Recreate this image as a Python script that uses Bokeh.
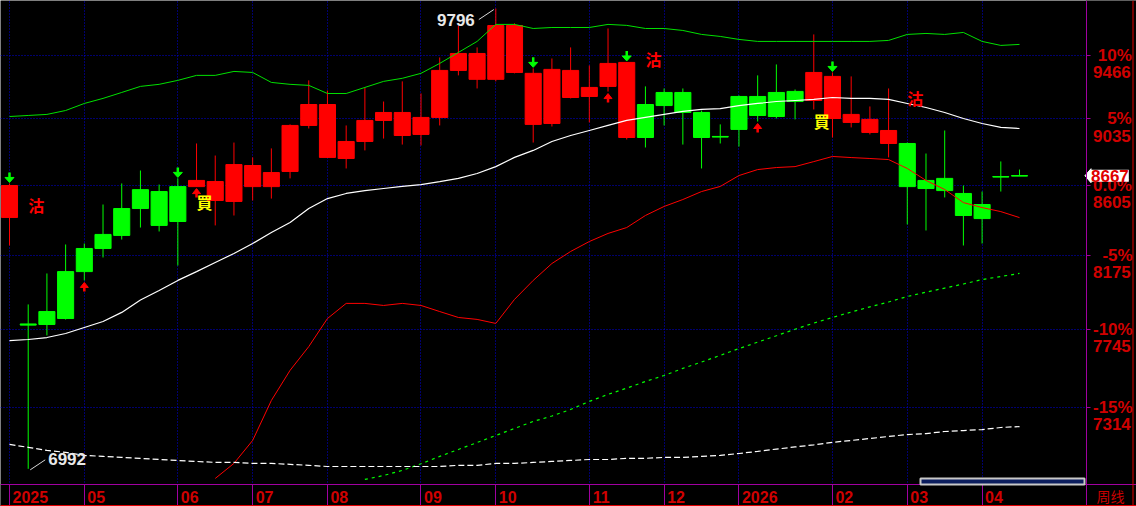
import numpy as np
from bokeh.plotting import figure
from bokeh.models import (ColumnDataSource, Range1d, FixedTicker, Label, Span,
                          BoxAnnotation)
from bokeh.core.properties import value
from bokeh.embed import file_html
from bokeh.resources import INLINE

# ---------------- data (weekly candles) ----------------
opens = [8406, 7775, 7846, 8079, 8217, 8302, 8461, 8579, 8567, 8598,
         8598, 8511, 8505, 8598, 8598, 8694, 8992, 8784, 8777, 8887,
         9025, 8926, 8933, 9045, 9362, 9301, 9301, 9348, 8999, 9005,
         9178, 9185, 9253, 8913, 9131, 9212, 9212, 9078, 8920, 9185,
         9185, 9212, 9219, 9158, 9038, 9012, 8946, 8874, 8874, 8637,
         8650, 8555, 8486, 8662, 8667]
highs = [8618, 7887, 8068, 8241, 8247, 8486, 8618, 8700, 8611, 8650,
         8874, 8796, 8880, 8784, 8842, 8999, 9294, 9225, 8992, 9246,
         9151, 9287, 9205, 9451, 9675, 9521, 9796, 9690, 9376, 9444,
         9521, 9396, 9654, 9420, 9253, 9239, 9239, 9091, 8999, 9192,
         9328, 9403, 9232, 9612, 9348, 9321, 9118, 9239, 8880, 8809,
         8959, 8605, 8567, 8758, 8706]
lows = [8235, 6992, 7710, 7800, 8027, 8163, 8271, 8344, 8320, 8115,
        8598, 8357, 8418, 8511, 8523, 8650, 8972, 8780, 8713, 8829,
        8906, 8867, 8861, 8992, 9328, 9239, 9287, 9342, 8880, 8985,
        9172, 9012, 9218, 8900, 8848, 8992, 8867, 8713, 8874, 8854,
        9018, 9038, 9032, 9098, 8913, 8979, 8933, 8784, 8363, 8326,
        8530, 8235, 8247, 8567, 8667]
closes = [8605, 7770, 7772, 7806, 8079, 8217, 8296, 8461, 8357, 8381,
          8637, 8630, 8738, 8732, 8687, 8992, 9131, 9131, 8887, 9025,
          9078, 9078, 9045, 9362, 9479, 9479, 9675, 9675, 9342, 9369,
          9362, 9246, 9410, 9417, 8913, 9124, 9078, 8913, 8918, 8966,
          9058, 9051, 9151, 9348, 9321, 9065, 9032, 8959, 8598, 8586,
          8573, 8418, 8399, 8660, 8667]

# indicator lines
upper_band = [9051, 9058, 9065, 9091, 9138, 9172, 9212, 9253, 9267, 9294,
              9328, 9328, 9355, 9348, 9280, 9267, 9260, 9205, 9205, 9246,
              9287, 9308, 9342, 9410, 9486, 9563, 9683, 9683, 9654, 9661,
              9661, 9661, 9683, 9676, 9654, 9654, 9640, 9612, 9598, 9577,
              9563, 9563, 9563, 9563, 9563, 9563, 9563, 9570, 9612, 9619,
              9612, 9626, 9563, 9535, 9542]
mid_line = [7681, 7687, 7698, 7721, 7755, 7789, 7841, 7913, 7968, 8027,
            8079, 8133, 8187, 8247, 8314, 8375, 8461, 8523, 8555, 8573,
            8586, 8599, 8611, 8630, 8650, 8681, 8725, 8784, 8829, 8887,
            8926, 8959, 8992, 9025, 9045, 9065, 9085, 9098, 9104, 9124,
            9138, 9151, 9158, 9165, 9178, 9172, 9172, 9165, 9138, 9111,
            9078, 9038, 9005, 8979, 8972]
nan = float("nan")
lower_red = [nan] * 11 + [6943, 7020, 7139, 7351, 7515, 7647, 7806, 7893, 7893,
                          7881, 7893, 7881, 7846, 7812, 7801, 7778, 7916, 8027, 8127,
                          8199, 8259, 8308, 8344, 8418, 8474, 8517, 8567, 8599, 8668,
                          8706, 8719, 8725, 8757, 8790, 8783, 8777, 8770, 8713, 8637,
                          8580, 8498, 8467, 8442, 8405]
green_dash = [nan] * 19 + [6938, 6958, 6984, 7018, 7056, 7092, 7128, 7165, 7202,
                           7239, 7268, 7303, 7346, 7384, 7418, 7454, 7487, 7526,
                           7561, 7598, 7636, 7672, 7708, 7745, 7780, 7812, 7843,
                           7873, 7901, 7933, 7958, 7982, 8006, 8032, 8050, 8068]
white_dash = [7118, 7103, 7087, 7077, 7061, 7056, 7051, 7046, 7040, 7035,
              7030, 7025, 7025, 7020, 7020, 7015, 7010, 7004, 7004, 7004,
              7004, 7004, 7004, 7004, 7010, 7010, 7020, 7020, 7025, 7030,
              7035, 7040, 7040, 7046, 7046, 7051, 7051, 7056, 7061, 7071,
              7082, 7094, 7105, 7116, 7129, 7139, 7149, 7160, 7170, 7175,
              7186, 7191, 7196, 7207, 7212]

# signals
sell_arrow_idx = [0, 9, 28, 33, 44]
buy_arrow_idx = [4, 10, 32, 40]
sell_text_idx = [1, 34, 48]
sell_text_price = [8486, 9444, 9178]
buy_text_idx = [10, 43]
buy_text_price = [8499, 9022]

# axes
month_idx = [0, 4, 9, 13, 17, 22, 26, 31, 35, 39, 44, 48, 52]
month_labels = ["2025", "05", "06", "07", "08", "09", "10", "11", "12",
                "2026", "02", "03", "04"]
base_price = 8605
pct_levels = [10, 5, 0, -5, -10, -15]
pct_labels = ["10%", "5%", "0.0%", "-5%", "-10%", "-15%"]
period_label = "周线"

# ---------------- layout calibration ----------------
W, H = 1136, 506
RX0, RDX = 9.0, 18.704            # first candle x, px per candle
RY0, RDY = 185.0, 1365.0          # y of base price, px per ln(price)


def ref_x(px):
    return (px - RX0) / RDX


def ref_y(py):
    return base_price * float(np.exp((RY0 - py) / RDY))


X0, X1 = ref_x(0), ref_x(W)
Y0, Y1 = ref_y(H), ref_y(0)
PX = W / (X1 - X0)                 # px per candle
K = np.log(Y1 / Y0) / H            # ln(price) per px
AXX = ref_x(1085.5)                # right axis location
AXY = ref_y(484)                   # bottom axis location


def up(v, px):
    return float(v) * float(np.exp(K * px))


RED = "#ff0000"
GREEN = "#00ff00"
PURPLE = "#a000a0"
AXRED = "#d00000"
GRID = "#0000dd"
FONT = "Liberation Sans"
FS = 17
FS_X = 16

# Liberation Sans Bold advance widths (em) used to right-justify the two label lines
CW = {"-": 0.333, ".": 0.278, "%": 0.889, " ": 0.278}


def em_width(s):
    return sum(CW.get(ch, 0.556) for ch in s)


def right_pair(a, b):
    wa, wb = em_width(a), em_width(b)
    if wa < wb:
        a = "\u00a0" * int(round((wb - wa) / 0.278)) + a
    elif wb < wa:
        b = "\u00a0" * int(round((wa - wb) / 0.278)) + b
    return " \n%s\n%s" % (a, b)


p = figure(width=W, height=H, x_range=Range1d(X0, X1), y_range=Range1d(Y0, Y1),
           y_axis_type="log", y_axis_location="right",
           output_backend="svg", toolbar_location=None,
           background_fill_color="black", border_fill_color="black",
           outline_line_color=None,
           min_border_left=0, min_border_top=0, min_border_right=0, min_border_bottom=0)

# y axis (right, fixed at the chart edge)
tick_prices = [int(base_price * (1 + q / 100.0) + 0.5) for q in pct_levels]
yax = p.yaxis[0]
yax.fixed_location = AXX
yax.ticker = FixedTicker(ticks=tick_prices, minor_ticks=[])
yax.major_label_overrides = {t: right_pair(a, str(t)) for t, a in zip(tick_prices, pct_labels)}
yax.axis_line_color = PURPLE
yax.major_tick_line_color = PURPLE
yax.major_tick_out = 4
yax.major_tick_in = 0
yax.minor_tick_out = 0
yax.minor_tick_line_color = None
yax.major_label_text_color = AXRED
yax.major_label_text_font = FONT
yax.major_label_text_font_style = "bold"
yax.major_label_text_font_size = "%dpx" % FS
yax.major_label_text_line_height = 0.9
yax.major_label_standoff = 3

# x axis (bottom): labels sit just right of each month separator
lab_pos = [round(m + (3 + em_width(lb) * FS_X / 2.0) / PX, 4)
           for m, lb in zip(month_idx, month_labels)]
xax = p.xaxis[0]
xax.fixed_location = AXY
xax.ticker = FixedTicker(ticks=lab_pos, minor_ticks=month_idx)
xax.major_label_overrides = {t: lb for t, lb in zip(lab_pos, month_labels)}
xax.axis_line_color = PURPLE
xax.major_tick_out = 0
xax.major_tick_in = 0
xax.minor_tick_out = 22
xax.minor_tick_in = 0
xax.minor_tick_line_color = PURPLE
xax.major_label_text_color = AXRED
xax.major_label_text_font = FONT
xax.major_label_text_font_style = "bold"
xax.major_label_text_font_size = "%dpx" % FS_X
xax.major_label_standoff = -16

p.xgrid.ticker = FixedTicker(ticks=month_idx)
for g in (p.xgrid[0], p.ygrid[0]):
    g.grid_line_color = GRID
    g.grid_line_dash = "1 2"
    g.grid_line_width = 1

# keep grid lines out of the axis areas
p.add_layout(BoxAnnotation(left=AXX, level="underlay", fill_color="#000000",
                           fill_alpha=1.0, line_color=None))
p.add_layout(BoxAnnotation(top=AXY, level="underlay", fill_color="#000000",
                           fill_alpha=1.0, line_color=None))

# ---------------- candles ----------------
o = np.array(opens, float)
h = np.array(highs, float)
l = np.array(lows, float)
c = np.array(closes, float)
x = np.arange(len(o))
cols = [RED if cc > oo else GREEN for oo, cc in zip(opens, closes)]
src = ColumnDataSource(dict(x=x, o=o, h=h, l=l, c=c,
                            top=np.maximum(o, c), bot=np.minimum(o, c), col=cols))
p.segment(x0="x", y0="l", x1="x", y1="h", source=src, line_color="col", line_width=1)
p.vbar(x="x", width=0.86, top="top", bottom="bot", source=src,
       fill_color="col", line_color="col", line_width=1)
doji = [i for i in range(len(o)) if abs(np.log(o[i] / c[i])) < K * 1.5]
p.segment(x0=[i - 0.43 for i in doji], y0=[c[i] for i in doji],
          x1=[i + 0.43 for i in doji], y1=[c[i] for i in doji],
          line_color=[cols[i] for i in doji], line_width=1.5)

# ---------------- indicator lines ----------------
p.line(x, upper_band, line_color="#00e000", line_width=1)
p.line(x, mid_line, line_color="#ffffff", line_width=1.2)
p.line(x, lower_red, line_color=RED, line_width=1)
p.line(x, green_dash, line_color=GREEN, line_width=1.2, line_dash="3 4")
p.line(x, white_dash, line_color="#ffffff", line_width=1.2, line_dash="6 3")

# ---------------- signal arrows ----------------
hw = 4.5 / PX
p.patches([[i - hw, i + hw, i] for i in sell_arrow_idx],
          [[up(h[i], 6), up(h[i], 6), up(h[i], 1)] for i in sell_arrow_idx],
          fill_color=GREEN, line_color=GREEN)
p.segment(x0=sell_arrow_idx, y0=[up(h[i], 6) for i in sell_arrow_idx],
          x1=sell_arrow_idx, y1=[up(h[i], 11) for i in sell_arrow_idx],
          line_color=GREEN, line_width=2.5)
hw2 = 4.0 / PX
p.patches([[i - hw2, i + hw2, i] for i in buy_arrow_idx],
          [[up(l[i], -7), up(l[i], -7), up(l[i], -2)] for i in buy_arrow_idx],
          fill_color=RED, line_color=RED)
p.segment(x0=buy_arrow_idx, y0=[up(l[i], -7) for i in buy_arrow_idx],
          x1=buy_arrow_idx, y1=[up(l[i], -11) for i in buy_arrow_idx],
          line_color=RED, line_width=2.5)

p.text(x=sell_text_idx, y=sell_text_price, text=["沽"] * len(sell_text_idx),
       text_color=RED, text_font=value("Noto Sans CJK SC"), text_font_size="16px",
       text_font_style="bold", text_align="left", text_baseline="middle")
p.text(x=buy_text_idx, y=buy_text_price, text=["買"] * len(buy_text_idx),
       text_color="#ffff00", text_font=value("Noto Sans CJK TC"), text_font_size="16px",
       text_font_style="bold", text_align="left", text_baseline="middle")

# ---------------- extreme annotations ----------------
imax = int(np.argmax(h))
imin = int(np.argmin(l))
p.segment(x0=[imax - 17 / PX, imin + 2 / PX], y0=[up(h[imax], -11), up(l[imin], -1)],
          x1=[imax - 2 / PX, imin + 17 / PX], y1=[up(h[imax], -1), up(l[imin], 9)],
          line_color="#d8d8d8", line_width=1)
p.text(x=[imax - 21 / PX], y=[up(h[imax], -11.5)], text=["%d" % h[imax]],
       text_align="right", text_baseline="middle", text_color="#e8e8e8",
       text_font=value(FONT), text_font_style="bold", text_font_size="17px")
p.text(x=[imin + 20 / PX], y=[up(l[imin], 10)], text=["%d" % l[imin]],
       text_align="left", text_baseline="middle", text_color="#e8e8e8",
       text_font=value(FONT), text_font_style="bold", text_font_size="17px")

# ---------------- scrollbar, price tag, period, borders ----------------
p.add_layout(BoxAnnotation(left=ref_x(920), right=ref_x(1084), bottom=AXY, top=ref_y(478),
                           fill_color="#0c1e5e", fill_alpha=1.0,
                           line_color="#c8c8c8", line_width=2, line_alpha=1.0))
p.patch([AXX - 1 / PX, AXX + 5 / PX, AXX + 5 / PX], [c[-1], up(c[-1], 7), up(c[-1], -7)],
        fill_color="#ffffff", line_color="#ffffff")
p.add_layout(Label(x=AXX, y=c[-1], text="%d" % c[-1], x_offset=5,
                   text_align="left", text_baseline="middle",
                   text_color="#e00000", text_font=FONT, text_font_style="bold",
                   text_font_size="17px", background_fill_color="#ffffff",
                   background_fill_alpha=1.0, padding=0))
p.add_layout(Label(x=ref_x(1096), y=ref_y(495), text=period_label,
                   text_align="left", text_baseline="middle",
                   text_color="#c80000", text_font="Noto Sans CJK SC",
                   text_font_size="14px"))
p.add_layout(Span(location=ref_x(1132.5), dimension="height",
                  line_color="#e00000", line_width=1))
p.add_layout(Span(location=ref_y(505), dimension="width",
                  line_color="#e00000", line_width=1))

open("out.html", "w").write(file_html(p, INLINE))
